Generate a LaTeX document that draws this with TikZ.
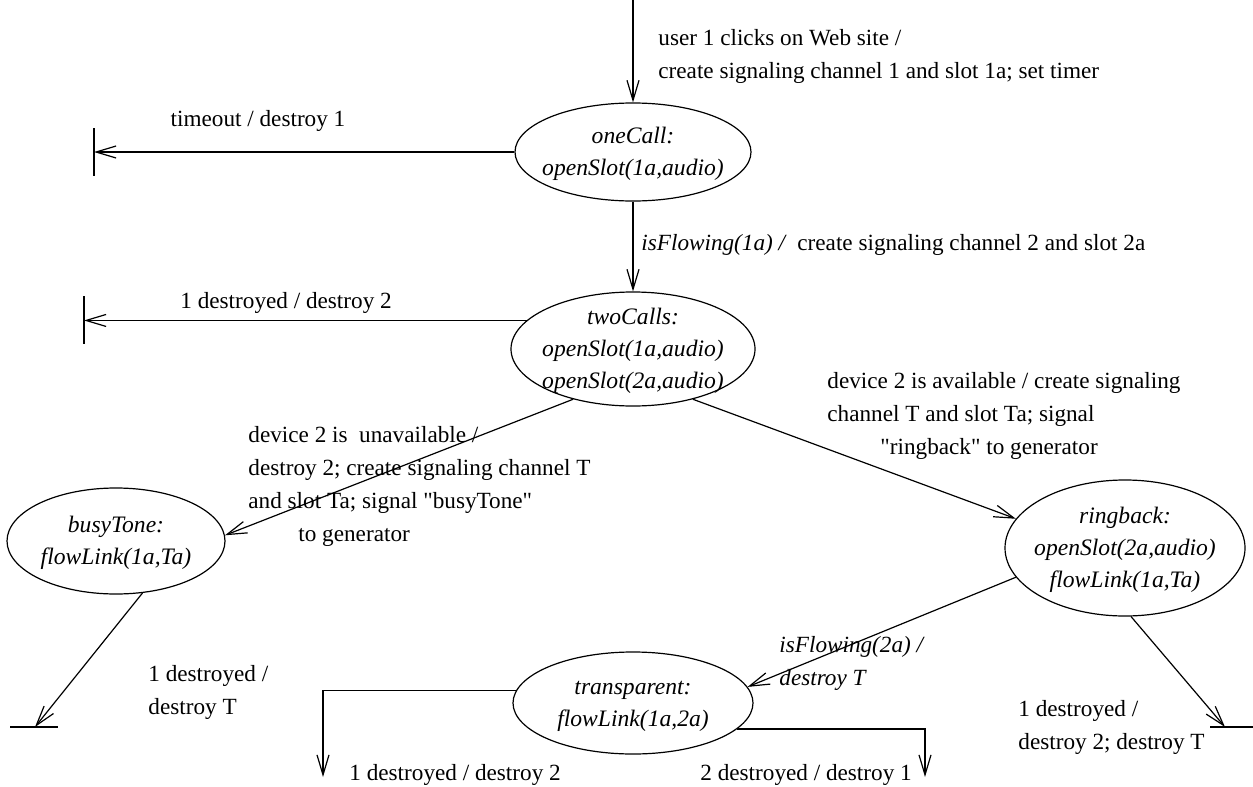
\documentclass[tikz,border=0pt]{standalone}
\usepackage{fontspec}
\setmainfont{Liberation Serif}
\usetikzlibrary{arrows.meta,shapes.geometric}
\newcommand{\stt}[2]{\smash{\raisebox{#1}{\makebox[0pt]{\begin{tabular}[t]{@{}c@{}}#2\end{tabular}}}}}
\tikzset{
  st/.style={ellipse,draw,line width=0.6pt,inner sep=0pt,
    font=\fontsize{11.8}{16}\selectfont\itshape},
  lbl/.style={inner sep=0pt,anchor=north west,align=left,
    font=\fontsize{11.6}{16.5}\selectfont},
  ilbl/.style={lbl,font=\fontsize{11.6}{16.5}\selectfont\itshape},
  arr/.style={line width=0.6pt,-{Straight Barb[length=10pt,width=6pt,line width=0.6pt]}},
  ln/.style={line width=0.6pt}
}
\begin{document}
\begin{tikzpicture}[x=0.5pt,y=-0.5pt]
\useasboundingbox (0,0) rectangle (1253,787);
% states
\node[st,minimum width=118pt,minimum height=49pt] (oneCall) at (633,152) {\stt{4.5pt}{oneCall:\\openSlot(1a,audio)}};
\node[st,minimum width=122pt,minimum height=57pt] (twoCalls) at (633,349) {\stt{12.5pt}{twoCalls:\\openSlot(1a,audio)\\openSlot(2a,audio)}};
\node[st,minimum width=109pt,minimum height=53pt] (busyTone) at (116,541) {\stt{4.5pt}{busyTone:\\flowLink(1a,Ta)}};
\node[st,minimum width=120pt,minimum height=68pt] (ringback) at (1125,548) {\stt{12.5pt}{ringback:\\openSlot(2a,audio)\\flowLink(1a,Ta)}};
\node[st,minimum width=120pt,minimum height=51pt] (transparent) at (633,703) {\stt{4.5pt}{transparent:\\flowLink(1a,2a)}};
% free ends
\coordinate (in0) at (633,0);
\coordinate (t1) at (94,152);
\coordinate (t2) at (84,320);
\coordinate (t3) at (35,727);
\coordinate (t4) at (1225,727);
\coordinate (t5) at (323,777);
\coordinate (t6) at (925,777);
% connectors
\draw[arr] (in0) -- (oneCall.north);
\draw[arr] (oneCall.west) -- (t1);
\draw[ln] (t1) ++(0,-24) -- ++(0,48);
\draw[arr] (oneCall.south) -- (twoCalls.north);
\draw[arr] (twoCalls.165) -- (twoCalls.165 -| t2);
\draw[ln] (t2) ++(0,-24) -- ++(0,48);
\draw[arr] (twoCalls.220) -- (busyTone.3);
\draw[arr] (twoCalls.320) -- (ringback.165);
\draw[arr] (busyTone.297) -- (t3);
\draw[ln] (t3) ++(-25,0) -- ++(48,0);
\draw[arr] (ringback.195) -- (transparent.8);
\draw[arr] (ringback.275) -- (t4);
\draw[ln] (t4) ++(-15,0) -- ++(43,0);
\draw[arr] (transparent.174) -- (transparent.174 -| t5) -- (t5);
\draw[arr] (transparent.346) -- (transparent.346 -| t6) -- (t6);
% labels
\node[lbl] (l0) at (658,29) {user 1 clicks on Web site /\\create signaling channel 1 and slot 1a; set timer};
\node[lbl,anchor=base] (l1) at (258,126) {timeout / destroy 1};
\node[ilbl,anchor=base west] (l2a) at (641,250) {isFlowing(1a) /};
\node[lbl,anchor=base west] (l2b) at (797,250) {create signaling channel 2 and slot 2a};
\node[lbl,anchor=base west] (l3) at (180,308) {1 destroyed / destroy 2};
\node[lbl] (l4) at (248,426) {device 2 is\ \ unavailable /\\destroy 2; create signaling channel T\\and slot Ta; signal \textquotedbl busyTone\textquotedbl\\\hspace*{25pt}to generator};
\node[lbl] (l5) at (827,372) {device 2 is available / create signaling\\channel T and slot Ta; signal\\\hspace*{26.5pt}\textquotedbl ringback\textquotedbl{} to generator};
\node[lbl] (l6) at (148,665) {1 destroyed /\\destroy T};
\node[ilbl] (l7) at (779,636) {isFlowing(2a) /\\destroy T};
\node[lbl] (l8) at (1018,700) {1 destroyed /\\destroy 2; destroy T};
\node[lbl,anchor=base west] (l9) at (349,780) {1 destroyed / destroy 2};
\node[lbl,anchor=base west] (l10) at (700,780) {2 destroyed / destroy 1};
\end{tikzpicture}
\end{document}
